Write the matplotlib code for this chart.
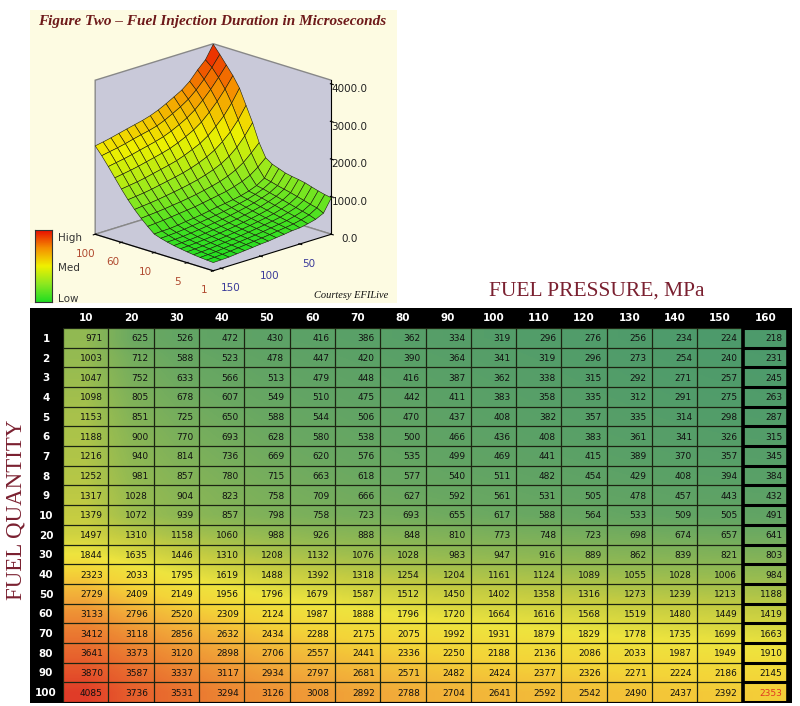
import numpy as np
import matplotlib
matplotlib.use('Agg')
import matplotlib.pyplot as plt
from matplotlib.colors import LinearSegmentedColormap
from matplotlib.patches import Rectangle

W, H = 800, 706

pressure = [10, 20, 30, 40, 50, 60, 70, 80, 90, 100, 110, 120, 130, 140, 150, 160]
quantity = [1, 2, 3, 4, 5, 6, 7, 8, 9, 10, 20, 30, 40, 50, 60, 70, 80, 90, 100]

duration = np.array([
    [971, 625, 526, 472, 430, 416, 386, 362, 334, 319, 296, 276, 256, 234, 224, 218],
    [1003, 712, 588, 523, 478, 447, 420, 390, 364, 341, 319, 296, 273, 254, 240, 231],
    [1047, 752, 633, 566, 513, 479, 448, 416, 387, 362, 338, 315, 292, 271, 257, 245],
    [1098, 805, 678, 607, 549, 510, 475, 442, 411, 383, 358, 335, 312, 291, 275, 263],
    [1153, 851, 725, 650, 588, 544, 506, 470, 437, 408, 382, 357, 335, 314, 298, 287],
    [1188, 900, 770, 693, 628, 580, 538, 500, 466, 436, 408, 383, 361, 341, 326, 315],
    [1216, 940, 814, 736, 669, 620, 576, 535, 499, 469, 441, 415, 389, 370, 357, 345],
    [1252, 981, 857, 780, 715, 663, 618, 577, 540, 511, 482, 454, 429, 408, 394, 384],
    [1317, 1028, 904, 823, 758, 709, 666, 627, 592, 561, 531, 505, 478, 457, 443, 432],
    [1379, 1072, 939, 857, 798, 758, 723, 693, 655, 617, 588, 564, 533, 509, 505, 491],
    [1497, 1310, 1158, 1060, 988, 926, 888, 848, 810, 773, 748, 723, 698, 674, 657, 641],
    [1844, 1635, 1446, 1310, 1208, 1132, 1076, 1028, 983, 947, 916, 889, 862, 839, 821, 803],
    [2323, 2033, 1795, 1619, 1488, 1392, 1318, 1254, 1204, 1161, 1124, 1089, 1055, 1028, 1006, 984],
    [2729, 2409, 2149, 1956, 1796, 1679, 1587, 1512, 1450, 1402, 1358, 1316, 1273, 1239, 1213, 1188],
    [3133, 2796, 2520, 2309, 2124, 1987, 1888, 1796, 1720, 1664, 1616, 1568, 1519, 1480, 1449, 1419],
    [3412, 3118, 2856, 2632, 2434, 2288, 2175, 2075, 1992, 1931, 1879, 1829, 1778, 1735, 1699, 1663],
    [3641, 3373, 3120, 2898, 2706, 2557, 2441, 2336, 2250, 2188, 2136, 2086, 2033, 1987, 1949, 1910],
    [3870, 3587, 3337, 3117, 2934, 2797, 2681, 2571, 2482, 2424, 2377, 2326, 2271, 2224, 2186, 2145],
    [4085, 3736, 3531, 3294, 3126, 3008, 2892, 2788, 2704, 2641, 2592, 2542, 2490, 2437, 2392, 2353],
])

# tick labels on the 3d quantity axis (row index -> label)
q_ticks = [18, 14, 9, 4, 0]
q_ticklabels = ['100', '60', '10', '5', '1']
p_ticks = [50, 100, 150]
z_ticks = [0, 1000, 2000, 3000, 4000]


def px(x0, y0, x1, y1):
    return [x0 / W, 1 - y1 / H, (x1 - x0) / W, (y1 - y0) / H]


def ftext(x, y, s, **kw):
    fig.text(x / W, 1 - y / H, s, **kw)


tab_cmap = LinearSegmentedColormap.from_list('tab', [
    (0.00, '#4c9a6c'), (0.10, '#69a862'), (0.20, '#93ba52'), (0.30, '#c4cc42'),
    (0.42, '#eee43e'), (0.53, '#f4d438'), (0.66, '#f2ae3a'), (0.80, '#ec8232'),
    (0.92, '#e65a2c'), (1.00, '#e03c28')])
surf_cmap = LinearSegmentedColormap.from_list('surf', [
    (0.0, '#22dd22'), (0.25, '#8ee820'), (0.5, '#f0f000'), (0.75, '#f59000'), (1.0, '#e81000')])

fig = plt.figure(figsize=(W / 100, H / 100), dpi=100)
fig.patch.set_facecolor('white')

# beige panel behind the 3d chart
fig.patches.append(Rectangle((30 / W, 1 - 303 / H), 367 / W, 293 / H, transform=fig.transFigure,
                             facecolor='#fdfbe2', edgecolor='none', zorder=-5))
# black frame behind the table
fig.patches.append(Rectangle((30 / W, 1 - 703 / H), 762 / W, 395 / H, transform=fig.transFigure,
                             facecolor='black', edgecolor='none', zorder=-5))

# ---- 3d surface ----
ax3 = fig.add_axes(px(42, 22, 377, 300), projection='3d', proj_type='ortho')
ax3.set_facecolor('none')
Q, P = np.meshgrid(np.arange(len(quantity)), pressure, indexing='ij')
ax3.plot_surface(Q, P, duration, cmap=surf_cmap, vmin=200, vmax=4100,
                 edgecolor='#1a1a08', linewidth=0.4, rstride=1, cstride=1, antialiased=True)
ax3.view_init(elev=18, azim=135)
ax3.set_box_aspect((1, 1, 0.97))
ax3.set_xlim(0, len(quantity) - 1)
ax3.set_ylim(pressure[0], pressure[-1])
ax3.set_zlim(0, 4100)
ax3.grid(False)
for a in (ax3.xaxis, ax3.yaxis, ax3.zaxis):
    a.set_pane_color((0.79, 0.79, 0.85, 1.0))
    a.pane.set_edgecolor('#888888')
ax3.set_xticks(q_ticks)
ax3.set_xticklabels(q_ticklabels, color='#b04a30', fontsize=7.5)
ax3.set_yticks(p_ticks)
ax3.set_yticklabels([str(p) for p in p_ticks], color='#3a3a9a', fontsize=7.5)
ax3.set_zticks(z_ticks)
ax3.set_zticklabels(['%.1f' % z for z in z_ticks], color='#222222', fontsize=7.5)
ax3.tick_params(pad=0)

ftext(212, 22, 'Figure Two \u2013 Fuel Injection Duration in Microseconds', ha='center', va='center',
      fontsize=11, style='italic', weight='bold', family='Liberation Serif', color='#6e1a1a')
ftext(388, 295, 'Courtesy EFILive', ha='right', va='center', fontsize=7.5, style='italic',
      family='Liberation Serif', color='#111111')

# high/med/low legend
axc = fig.add_axes(px(35, 230, 52, 302))
axc.imshow(np.linspace(1, 0, 100)[:, None], cmap=surf_cmap, aspect='auto')
axc.set_xticks([])
axc.set_yticks([])
for s in axc.spines.values():
    s.set_color('#333333')
for lbl, y in (('High', 238), ('Med', 268), ('Low', 299)):
    ftext(58, y, lbl, ha='left', va='center', fontsize=7.5, color='#333333')

# ---- table ----
nr, nc = duration.shape
ax = fig.add_axes(px(63, 328, 788, 702))
ax.imshow(duration, cmap=tab_cmap, vmin=200, vmax=4100, interpolation='bilinear',
          extent=(0, nc, nr, 0), aspect='auto')
ax.set_xlim(0, nc)
ax.set_ylim(nr, 0)
ax.axis('off')
for j in range(nc + 1):
    ax.axvline(j, color='#1c2412', lw=0.9)
for i in range(nr + 1):
    ax.plot([0, nc - 1], [i, i], color='#1c2412', lw=0.9)
    ax.plot([nc - 1, nc], [i, i], color='black', lw=2.2)
ax.axvline(nc - 1, color='black', lw=2.6)
ax.axvline(nc, color='black', lw=2.6)

for i in range(nr):
    for j in range(nc):
        c = '#e03a20' if (i == nr - 1 and j == nc - 1) else '#111111'
        ax.text(j + 0.88, i + 0.55, str(duration[i, j]), ha='right', va='center',
                fontsize=6.5, color=c)

x0, cw = 63, 725 / nc
for j, p in enumerate(pressure):
    ftext(x0 + (j + 0.5) * cw, 318, str(p), ha='center', va='center', fontsize=7.5,
          weight='bold', color='white')
rh = 374 / nr
for i, q in enumerate(quantity):
    ftext(46, 328 + (i + 0.55) * rh, str(q), ha='center', va='center', fontsize=7.5,
          weight='bold', color='white')

ftext(597, 291, 'FUEL PRESSURE, MPa', ha='center', va='center', fontsize=15.5,
      family='Liberation Serif', color='#7a2030')
ftext(16, 510, 'FUEL QUANTITY', ha='center', va='center', rotation=90, fontsize=16.5,
      family='Liberation Serif', color='#7a2030')

fig.savefig('out.png', dpi=100)
